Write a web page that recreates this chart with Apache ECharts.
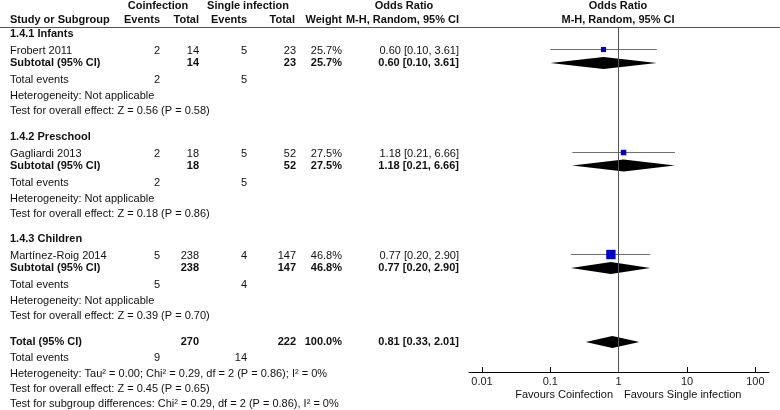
<!DOCTYPE html>
<html><head><meta charset="utf-8">
<script src="https://cdn.jsdelivr.net/npm/echarts@6/dist/echarts.min.js"></script>
<style>html,body{margin:0;padding:0;background:#fff}#c{width:780px;height:410px}</style>
</head><body><div id="c"></div>
<script>
// ---------------- data ----------------
const groupNames = ['1.4.1 Infants', '1.4.2 Preschool', '1.4.3 Children'];
const studyNames = ['Frobert 2011', 'Gagliardi 2013', 'Martínez-Roig 2014'];
const coinfEvents = [2, 2, 5];
const coinfTotal = [14, 18, 238];
const singleEvents = [5, 5, 4];
const singleTotal = [23, 52, 147];
const studyWeight = [25.7, 27.5, 46.8];
const studyOR = [0.60, 1.18, 0.77];
const studyLow = [0.10, 0.21, 0.20];
const studyHigh = [3.61, 6.66, 2.90];
const subOR = [0.60, 1.18, 0.77];
const subLow = [0.10, 0.21, 0.20];
const subHigh = [3.61, 6.66, 2.90];
const subHetero = ['Not applicable', 'Not applicable', 'Not applicable'];
const subOverall = ['Z = 0.56 (P = 0.58)', 'Z = 0.18 (P = 0.86)', 'Z = 0.39 (P = 0.70)'];
const totalEvents = [9, 14];
const totalN = [270, 222];
const totalWeight = '100.0%';
const totalOR = [0.81, 0.33, 2.01];
const totalHetero = 'Tau² = 0.00; Chi² = 0.29, df = 2 (P = 0.86); I² = 0%';
const totalOverall = 'Z = 0.45 (P = 0.65)';
const subgroupTest = 'Chi² = 0.29, df = 2 (P = 0.86), I² = 0%';
const axisTicks = [0.01, 0.1, 1, 10, 100];
const axisTickLabels = ['0.01', '0.1', '1', '10', '100'];
const favourLeft = 'Favours Coinfection';
const favourRight = 'Favours Single infection';

// ---------------- layout ----------------
const L = {
  colLabel: 10, colCE: 160, colCT: 199, colSE: 247, colST: 296, colW: 342, colOR: 459,
  centerCoinf: 158, centerSingle: 248, centerORText: 404, centerPlot: 618,
  head1: 6, head2: 19.5, headLine: 27.5,
  groupTop: [34, 136.5, 239],
  dStudy: 17, dSub: 29, dEvents: 46, dHet: 62, dTest: 77,
  totalY: 342, totalEv: 358, totalHet: 374, totalTest: 389, subTest: 404,
  plotLeft: 469, plotRight: 769, plotTop: 27, axisY: 372,
  favourY: 395
};
const FONT = '11px "Liberation Sans", Arial, sans-serif';
const BFONT = 'bold 11px "Liberation Sans", Arial, sans-serif';
const TXT = '#111';

function fmtOR(e, lo, hi) { return e.toFixed(2) + ' [' + lo.toFixed(2) + ', ' + hi.toFixed(2) + ']'; }

const els = [];
function t(str, x, y, align, bold) {
  els.push({ type: 'text', x: x, y: y, silent: true,
    style: { text: String(str), font: bold ? BFONT : FONT, fill: TXT, align: align || 'left', verticalAlign: 'middle' } });
}
// headers
t('Coinfection', L.centerCoinf, L.head1, 'center', true);
t('Single infection', L.centerSingle, L.head1, 'center', true);
t('Odds Ratio', L.centerORText, L.head1, 'center', true);
t('Odds Ratio', L.centerPlot, L.head1, 'center', true);
t('Study or Subgroup', L.colLabel, L.head2, 'left', true);
t('Events', L.colCE, L.head2, 'right', true);
t('Total', L.colCT, L.head2, 'right', true);
t('Events', L.colSE, L.head2, 'right', true);
t('Total', L.colST - 1, L.head2, 'right', true);
t('Weight', L.colW, L.head2, 'right', true);
t('M-H, Random, 95% CI', L.colOR, L.head2, 'right', true);
t('M-H, Random, 95% CI', L.centerPlot, L.head2, 'center', true);
els.push({ type: 'line', silent: true, shape: { x1: 0, y1: L.headLine, x2: 780, y2: L.headLine }, style: { stroke: '#555', lineWidth: 1 } });

const studyMarks = [];
const diamondMarks = [];
groupNames.forEach((g, i) => {
  const y0 = L.groupTop[i];
  t(g, L.colLabel, y0, 'left', true);
  const ys = y0 + L.dStudy;
  t(studyNames[i], L.colLabel, ys, 'left');
  t(coinfEvents[i], L.colCE, ys, 'right');
  t(coinfTotal[i], L.colCT, ys, 'right');
  t(singleEvents[i], L.colSE, ys, 'right');
  t(singleTotal[i], L.colST, ys, 'right');
  t(studyWeight[i].toFixed(1) + '%', L.colW, ys, 'right');
  t(fmtOR(studyOR[i], studyLow[i], studyHigh[i]), L.colOR, ys, 'right');
  studyMarks.push([studyOR[i], studyLow[i], studyHigh[i], Math.round(ys - 2) + 0.5, studyWeight[i]]);
  const yb = y0 + L.dSub;
  t('Subtotal (95% CI)', L.colLabel, yb, 'left', true);
  t(coinfTotal[i], L.colCT, yb, 'right', true);
  t(singleTotal[i], L.colST, yb, 'right', true);
  t(studyWeight[i].toFixed(1) + '%', L.colW, yb, 'right', true);
  t(fmtOR(subOR[i], subLow[i], subHigh[i]), L.colOR, yb, 'right', true);
  diamondMarks.push([subOR[i], subLow[i], subHigh[i], yb]);
  const ye = y0 + L.dEvents;
  t('Total events', L.colLabel, ye, 'left');
  t(coinfEvents[i], L.colCE, ye, 'right');
  t(singleEvents[i], L.colSE, ye, 'right');
  t('Heterogeneity: ' + subHetero[i], L.colLabel, y0 + L.dHet, 'left');
  t('Test for overall effect: ' + subOverall[i], L.colLabel, y0 + L.dTest, 'left');
});
t('Total (95% CI)', L.colLabel, L.totalY, 'left', true);
t(totalN[0], L.colCT, L.totalY, 'right', true);
t(totalN[1], L.colST, L.totalY, 'right', true);
t(totalWeight, L.colW, L.totalY, 'right', true);
t(fmtOR(totalOR[0], totalOR[1], totalOR[2]), L.colOR, L.totalY, 'right', true);
diamondMarks.push([totalOR[0], totalOR[1], totalOR[2], L.totalY]);
t('Total events', L.colLabel, L.totalEv, 'left');
t(totalEvents[0], L.colCE, L.totalEv, 'right');
t(totalEvents[1], L.colSE, L.totalEv, 'right');
t('Heterogeneity: ' + totalHetero, L.colLabel, L.totalHet, 'left');
t('Test for overall effect: ' + totalOverall, L.colLabel, L.totalTest, 'left');
t('Test for subgroup differences: ' + subgroupTest, L.colLabel, L.subTest, 'left');
t(favourLeft, L.centerPlot - 5, L.favourY, 'right');
t(favourRight, L.centerPlot + 6, L.favourY, 'left');

const chart = echarts.init(document.getElementById('c'), null, { renderer: 'canvas' });
chart.setOption({
  animation: false,
  backgroundColor: '#fff',
  grid: { left: L.plotLeft, width: L.plotRight - L.plotLeft, top: L.plotTop, height: L.axisY - L.plotTop, containLabel: false },
  xAxis: {
    type: 'log', logBase: 10, min: Math.pow(10, -2.19), max: Math.pow(10, 2.2),
    axisLine: { show: true, lineStyle: { color: '#000', width: 1 } },
    axisTick: { show: true, inside: true, length: 5, customValues: axisTicks, lineStyle: { color: '#000' } },
    axisLabel: { show: true, customValues: axisTicks, margin: 4, color: '#222', fontSize: 11, fontFamily: '"Liberation Sans", Arial, sans-serif',
      formatter: function (v) { let best = 0; axisTicks.forEach((tv, k) => { if (Math.abs(Math.log10(tv) - Math.log10(v)) < Math.abs(Math.log10(axisTicks[best]) - Math.log10(v))) best = k; }); return axisTickLabels[best]; } },
    splitLine: { show: false }
  },
  yAxis: { type: 'value', inverse: true, min: L.plotTop, max: L.axisY, show: false },
  series: [
    {
      type: 'custom', name: 'diamonds', data: diamondMarks, encode: { x: [0, 1, 2], y: 3 },
      renderItem: function (params, api) {
        const y = api.value(3);
        const a = api.coord([api.value(1), y]);
        const b = api.coord([api.value(2), y]);
        const c = api.coord([api.value(0), y]);
        return { type: 'polygon', shape: { points: [[a[0], a[1]], [c[0], c[1] - 6], [b[0], b[1]], [c[0], c[1] + 6]] }, style: { fill: '#000' } };
      },
      markLine: { silent: true, symbol: 'none', label: { show: false }, lineStyle: { color: '#555', width: 1, type: 'solid' }, data: [{ xAxis: 1 }] },
      z: 3
    },
    {
      type: 'custom', name: 'studies', data: studyMarks, encode: { x: [0, 1, 2], y: 3 },
      renderItem: function (params, api) {
        const y = api.value(3);
        const a = api.coord([api.value(1), y]);
        const b = api.coord([api.value(2), y]);
        const c = api.coord([api.value(0), y]);
        const s = api.value(4) * 0.2;
        return { type: 'group', children: [
          { type: 'line', shape: { x1: a[0], y1: a[1], x2: b[0], y2: b[1] }, style: { stroke: '#707070', lineWidth: 1 } },
          { type: 'rect', shape: { x: c[0] - s / 2, y: c[1] - s / 2, width: s, height: s }, style: { fill: '#0000cc' } }
        ] };
      },
      z: 4
    }
  ],
  graphic: { elements: els }
});
</script>
</body></html>
